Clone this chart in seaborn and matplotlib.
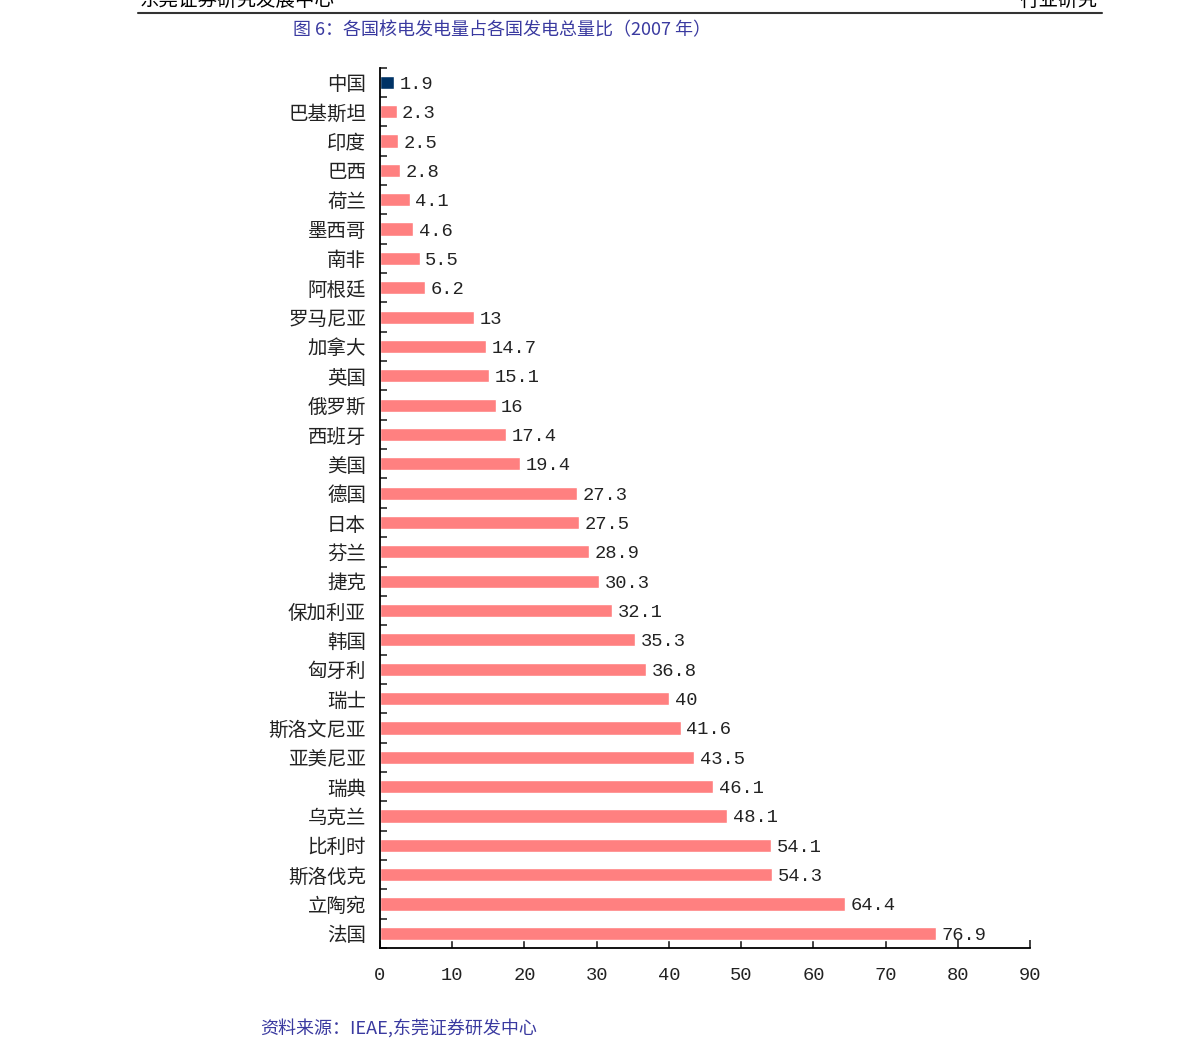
import seaborn as sns
import pandas as pd
import numpy as np
import matplotlib.pyplot as plt
from matplotlib.ticker import FixedLocator

countries = ['中国', '巴基斯坦', '印度', '巴西', '荷兰', '墨西哥', '南非', '阿根廷',
             '罗马尼亚', '加拿大', '英国', '俄罗斯', '西班牙', '美国', '德国', '日本',
             '芬兰', '捷克', '保加利亚', '韩国', '匈牙利', '瑞士', '斯洛文尼亚',
             '亚美尼亚', '瑞典', '乌克兰', '比利时', '斯洛伐克', '立陶宛', '法国']
shares = [1.9, 2.3, 2.5, 2.8, 4.1, 4.6, 5.5, 6.2, 13, 14.7, 15.1, 16, 17.4, 19.4,
          27.3, 27.5, 28.9, 30.3, 32.1, 35.3, 36.8, 40, 41.6, 43.5, 46.1, 48.1,
          54.1, 54.3, 64.4, 76.9]
value_labels = ['1.9', '2.3', '2.5', '2.8', '4.1', '4.6', '5.5', '6.2', '13', '14.7',
                '15.1', '16', '17.4', '19.4', '27.3', '27.5', '28.9', '30.3', '32.1',
                '35.3', '36.8', '40', '41.6', '43.5', '46.1', '48.1', '54.1', '54.3',
                '64.4', '76.9']
x_ticks = [0, 10, 20, 30, 40, 50, 60, 70, 80, 90]

sns.set_style('white')
plt.rcParams['font.family'] = ['Noto Sans CJK SC', 'DejaVu Sans']

df = pd.DataFrame({'country': countries, 'share': shares})
colors = ['#003366'] + ['#FF8080'] * (len(countries) - 1)

fig = plt.figure(figsize=(11.91, 10.58), dpi=100)
ax = fig.add_axes([0.319, 0.104, 0.546, 0.832])
sns.barplot(data=df, x='share', y='country', hue='country', palette=colors,
            legend=False, width=0.45, orient='h', ax=ax, saturation=1)

num_font = ['Liberation Mono', 'DejaVu Sans']
for cont, lab in zip(ax.containers, value_labels):
    txts = ax.bar_label(cont, labels=[lab], padding=4, fontsize=13.5,
                        family=num_font, color='#222222')
    for t in txts:
        t.set_va('center_baseline')

ax.set_xlim(0, 90)
ax.set_ylim(len(countries) - 0.5, -0.5)
ax.set_xticks(x_ticks)
ax.set_xticklabels([str(t) for t in x_ticks], family=num_font, fontsize=13.5)
ax.set_yticks(range(len(countries)))
ax.set_yticklabels(countries, fontsize=14)
ax.yaxis.set_minor_locator(FixedLocator(np.arange(-0.5, len(countries), 1)))
ax.tick_params(axis='y', which='major', length=0, pad=10, colors='#222222')
ax.tick_params(axis='y', which='minor', length=5, direction='in', width=1.2, left=True)
ax.tick_params(axis='x', which='major', length=6, direction='in', width=1.2,
               pad=14, colors='#222222', bottom=True)
ax.set_xlabel('')
ax.set_ylabel('')
sns.despine(ax=ax)
for s in ['left', 'bottom']:
    ax.spines[s].set_color('black')
    ax.spines[s].set_linewidth(1.3)

title_color = '#3A3AA0'
fig.text(293 / 1191, 1 - 30 / 1058, '图 6：各国核电发电量占各国发电总量比（2007 年）',
         fontsize=13, color=title_color, va='center', ha='left')
fig.text(260 / 1191, 1 - 1028 / 1058, '资料来源：IEAE,东莞证券研发中心',
         fontsize=13, color=title_color, va='center', ha='left')

# page header (cut off at top, as in the source page)
fig.add_artist(plt.Line2D([138 / 1191, 1102 / 1191], [1 - 13 / 1058, 1 - 13 / 1058],
                          color='#333333', linewidth=1.5))
fig.text(140 / 1191, 1 - 6 / 1058, '东莞证券研究发展中心', fontsize=14,
         color='black', ha='left', va='baseline')
fig.text(1097 / 1191, 1 - 6 / 1058, '行业研究', fontsize=14,
         color='black', ha='right', va='baseline')

plt.savefig('out.png', dpi=100)
